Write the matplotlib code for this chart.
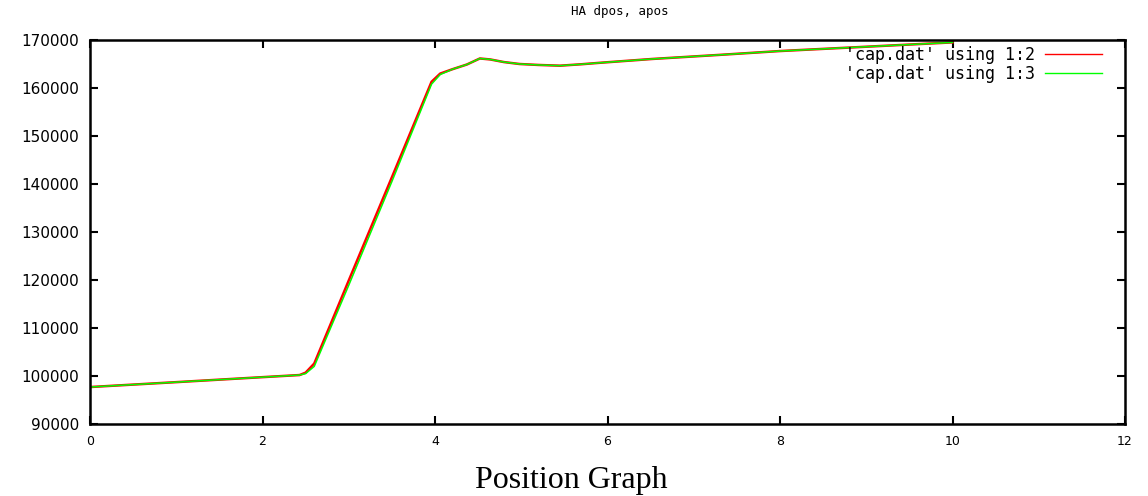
import matplotlib
matplotlib.use("Agg")
import matplotlib.pyplot as plt

# Data
x_vals = [0, 0.5, 1.0, 1.5, 2.0, 2.43, 2.5, 2.6, 3.0, 3.5, 3.96, 4.06, 4.2, 4.37,
          4.52, 4.64, 4.8, 4.98, 5.2, 5.45, 5.7, 5.91, 6.52, 7.3, 8.0, 9.0, 10.0]
dpos = [97700, 98210, 98720, 99240, 99760, 100200, 100700, 102600, 119900, 141400,
        161300, 163000, 163900, 164900, 166150, 165950, 165400, 165000, 164800,
        164650, 164950, 165250, 166050, 166900, 167700, 168600, 169500]
apos = [97700, 98210, 98720, 99240, 99760, 100200, 100500, 102000, 118900, 140500,
        160800, 162800, 163900, 164900, 166150, 165950, 165400, 165000, 164800,
        164650, 164950, 165250, 166050, 166900, 167700, 168600, 169500]
labels = ["'cap.dat' using 1:2", "'cap.dat' using 1:3"]
title = "HA dpos, apos"
caption = "Position Graph"
x_ticks = [0, 2, 4, 6, 8, 10, 12]
y_ticks = [90000, 100000, 110000, 120000, 130000, 140000, 150000, 160000, 170000]

fig = plt.figure(figsize=(11.48, 4.96), dpi=100)
ax = fig.add_axes([90/1148, 1 - 424/496, (1125 - 90)/1148, (424 - 40)/496])

ax.plot(x_vals, dpos, color="#ff0000", lw=1.8, label=labels[0])
ax.plot(x_vals, apos, color="#00ff00", lw=1.1, label=labels[1])

ax.set_xlim(0, 12)
ax.set_ylim(90000, 170000)
ax.set_xticks(x_ticks)
ax.set_yticks(y_ticks)
ax.set_xticklabels([str(t) for t in x_ticks], fontsize=9, family="DejaVu Sans")
ax.set_yticklabels([str(t) for t in y_ticks], fontsize=11, family="DejaVu Sans")
ax.tick_params(direction="in", length=6, width=1.5, top=True, right=True,
               pad=8, colors="black")
for s in ax.spines.values():
    s.set_linewidth(1.8)
    s.set_color("black")

leg = ax.legend(loc="upper right", frameon=False, markerfirst=False,
                handlelength=3.4, handletextpad=0.6, labelspacing=0.05,
                borderaxespad=0.0, borderpad=0.0,
                prop={"family": "DejaVu Sans Mono", "size": 12})
leg.set_bbox_to_anchor((1102/1148, 1 - 46/496), transform=fig.transFigure)
for line in leg.get_lines():
    line.set_linewidth(1.0)

fig.text(620/1148, 1 - 12/496, title, ha="center", va="center",
         family="DejaVu Sans Mono", fontsize=9)
fig.text(571/1148, 1 - 488/496, caption, ha="center", va="baseline",
         family="Liberation Serif", fontsize=23)

fig.savefig("out.png", dpi=100)
